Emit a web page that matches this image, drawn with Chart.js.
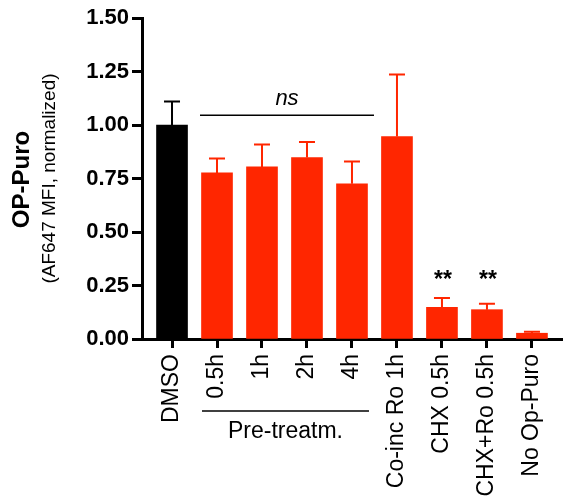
<!DOCTYPE html>
<html>
<head>
<meta charset="utf-8">
<script src="https://cdn.jsdelivr.net/npm/chart.js@4/dist/chart.umd.min.js"></script>
<style>
  html, body { margin: 0; padding: 0; background: #fff; }
  #wrap { width: 563px; height: 500px; }
</style>
</head>
<body>
<div id="wrap"><canvas id="opPuroChart"></canvas></div>
<script>
// ---------- data ----------
const categories = ['DMSO', '0.5h', '1h', '2h', '4h', 'Co-inc Ro 1h', 'CHX 0.5h', 'CHX+Ro 0.5h', 'No Op-Puro'];
const means = [1.00, 0.776, 0.804, 0.848, 0.725, 0.946, 0.148, 0.137, 0.027];
const errorsUp = [0.11, 0.068, 0.105, 0.072, 0.105, 0.29, 0.044, 0.028, 0.007];
const yTicks = [0, 0.25, 0.5, 0.75, 1.0, 1.25, 1.5];

// 통계 표시 (ns 구간, ** 표시)
const nsRange = [1, 4];
const nsLevel = 1.045;
const starBars = [6, 7];
const starLevel = 0.255;
const pretreatRange = [1, 4];

const black = '#000000';
const red = 'rgb(255, 38, 0)';
const barColors = categories.map((c, i) => (i === 0 ? black : red));

const FONT = "'Liberation Sans', Arial, Helvetica, sans-serif";

// ---------- plugin: error bars + annotations ----------
const annotatePlugin = {
  id: 'annotate',
  afterDatasetsDraw(chart) {
    const ctx = chart.ctx;
    const x = chart.scales.x;
    const y = chart.scales.y;
    const area = chart.chartArea;

    // 에러바 (위쪽만)
    ctx.save();
    means.forEach((m, i) => {
      const cx = x.getPixelForValue(i);
      const y0 = y.getPixelForValue(m);
      const y1 = y.getPixelForValue(m + errorsUp[i]);
      ctx.strokeStyle = barColors[i];
      ctx.lineWidth = 2;
      ctx.beginPath();
      ctx.moveTo(cx, y0);
      ctx.lineTo(cx, y1);
      ctx.moveTo(cx - 8, y1);
      ctx.lineTo(cx + 8, y1);
      ctx.stroke();
    });

    // ns 라인
    const nsY = y.getPixelForValue(nsLevel);
    const nsX0 = x.getPixelForValue(nsRange[0]) - 17;
    const nsX1 = x.getPixelForValue(nsRange[1]) + 22;
    ctx.strokeStyle = black;
    ctx.lineWidth = 1.5;
    ctx.beginPath();
    ctx.moveTo(nsX0, nsY);
    ctx.lineTo(nsX1, nsY);
    ctx.stroke();
    ctx.fillStyle = black;
    ctx.font = 'italic 22px ' + FONT;
    ctx.textAlign = 'center';
    ctx.textBaseline = 'alphabetic';
    ctx.fillText('ns', (nsX0 + nsX1) / 2, nsY - 10);

    // ** 표시
    ctx.font = 'bold 23px ' + FONT;
    starBars.forEach((i) => {
      ctx.fillText('**', x.getPixelForValue(i) + 1, y.getPixelForValue(starLevel) + 3);
    });

    // Pre-treatm. 라벨
    const ptX0 = x.getPixelForValue(pretreatRange[0]) - 15;
    const ptX1 = x.getPixelForValue(pretreatRange[1]) + 17;
    const ptY = area.bottom + 72;
    ctx.lineWidth = 1.5;
    ctx.beginPath();
    ctx.moveTo(ptX0, ptY);
    ctx.lineTo(ptX1, ptY);
    ctx.stroke();
    ctx.font = '23px ' + FONT;
    ctx.textBaseline = 'middle';
    ctx.fillText('Pre-treatm.', (ptX0 + ptX1) / 2, ptY + 21);

    // y축 제목
    const midY = (area.top + area.bottom) / 2;
    ctx.save();
    ctx.translate(22, midY + 1);
    ctx.rotate(-Math.PI / 2);
    ctx.font = 'bold 24px ' + FONT;
    ctx.textBaseline = 'middle';
    ctx.fillText('OP-Puro', 0, 0);
    ctx.restore();
    ctx.save();
    ctx.translate(50, midY);
    ctx.rotate(-Math.PI / 2);
    ctx.font = '19px ' + FONT;
    ctx.textBaseline = 'middle';
    ctx.fillText('(AF647 MFI, normalized)', 0, 0);
    ctx.restore();

    ctx.restore();
  },
};

// ---------- chart ----------
const data = {
  datasets: [
    {
      data: means.map((m, i) => ({ x: i, y: m })),
      backgroundColor: barColors,
      borderWidth: 0,
      barThickness: 31,
    },
  ],
};

const config = {
  type: 'bar',
  data: data,
  options: {
    responsive: true,
    maintainAspectRatio: false,
    animation: false,
    layout: { padding: { top: 18, right: 0, bottom: 0, left: 0 } },
    plugins: {
      legend: { display: false },
      title: { display: false },
      tooltip: { enabled: false },
    },
    scales: {
      x: {
        type: 'linear',
        offset: false,
        min: -0.667,
        max: 8.69,
        afterFit: (s) => {
          s.height = 161;
          s.paddingLeft = 0;
          s.paddingRight = 0;
        },
        border: { display: true, width: 3, color: black },
        grid: {
          display: true,
          offset: false,
          drawOnChartArea: false,
          drawTicks: true,
          tickLength: 9,
          tickWidth: 3,
          tickColor: black,
        },
        ticks: {
          stepSize: 1,
          includeBounds: false,
          autoSkip: false,
          minRotation: 90,
          maxRotation: 90,
          padding: 6,
          color: black,
          font: { family: FONT, size: 23 },
          callback: (v) => categories[v] ?? '',
        },
      },
      y: {
        min: 0,
        max: 1.5,
        afterFit: (s) => { s.width = 142; },
        afterBuildTicks: (s) => { s.ticks = yTicks.map((v) => ({ value: v })); },
        border: { display: true, width: 3, color: black },
        grid: {
          display: true,
          drawOnChartArea: false,
          drawTicks: true,
          tickLength: 10,
          tickWidth: 3,
          tickColor: black,
        },
        ticks: {
          padding: 3,
          color: black,
          font: { family: FONT, size: 22, weight: 'bold' },
          callback: (v) => Number(v).toFixed(2),
        },
      },
    },
  },
  plugins: [annotatePlugin],
};

const opPuroChart = new Chart(document.getElementById('opPuroChart'), config);
</script>
</body>
</html>
